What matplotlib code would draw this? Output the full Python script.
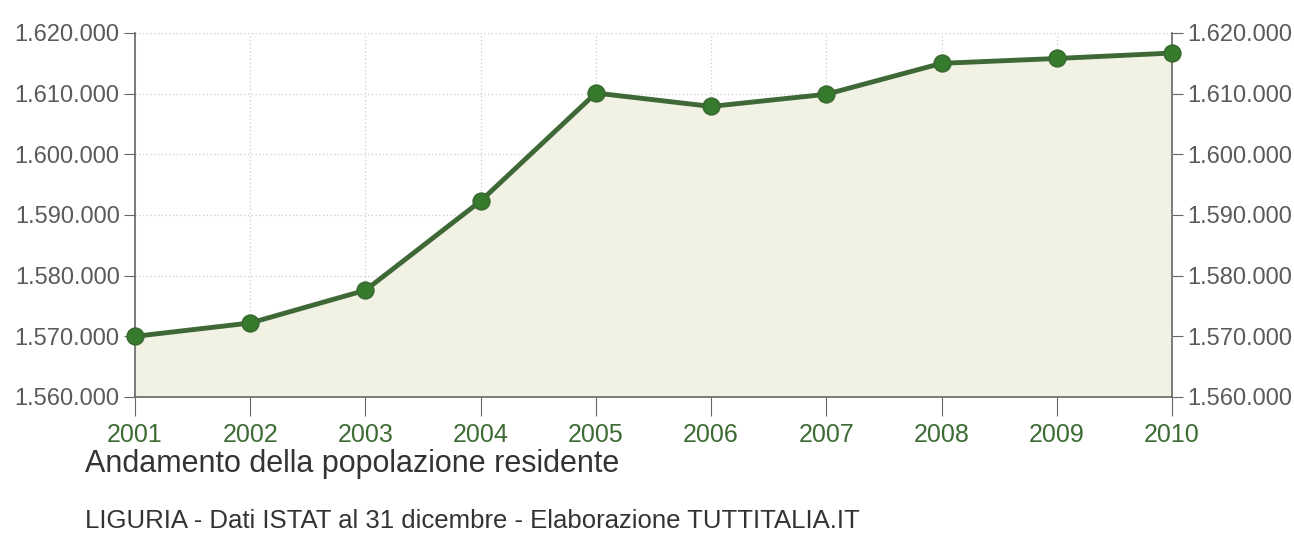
import matplotlib
matplotlib.use("Agg")
import matplotlib.pyplot as plt
from matplotlib.ticker import FuncFormatter

years = [2001, 2002, 2003, 2004, 2005, 2006, 2007, 2008, 2009, 2010]
population = [1570000, 1572200, 1577600, 1592300, 1610100, 1607900, 1609900, 1615000, 1615800, 1616700]
y_ticks = [1560000, 1570000, 1580000, 1590000, 1600000, 1610000, 1620000]
title = "Andamento della popolazione residente"
subtitle = "LIGURIA - Dati ISTAT al 31 dicembre - Elaborazione TUTTITALIA.IT"

plt.rcParams['font.family'] = ['Liberation Sans', 'DejaVu Sans']

fig = plt.figure(figsize=(12.94, 5.54), dpi=100)
ax = fig.add_axes([135/1294, 1-397/554, (1172-135)/1294, (397-33)/554])

ax.fill_between(years, population, y_ticks[0], color="#f1f2e4", zorder=1)
ax.plot(years, population, color="#3f6837", lw=3.5, zorder=3, clip_on=False)
ax.plot(years, population, linestyle="none", marker="o", ms=12, markerfacecolor="#357a2d",
        markeredgecolor="#3a6a32", markeredgewidth=1.2, zorder=4, clip_on=False)

ax.set_xlim(years[0], years[-1])
ax.set_ylim(y_ticks[0], y_ticks[-1])
ax.set_xticks(years)
ax.set_yticks(y_ticks)
fmt = FuncFormatter(lambda v, p: f"{int(v):,}".replace(",", "."))
ax.yaxis.set_major_formatter(fmt)
ax.grid(True, color="#cccccc", linestyle=(0, (1, 2)), lw=0.9, zorder=0)
ax.set_axisbelow(True)

for s in ["left", "right", "bottom"]:
    ax.spines[s].set_color("#666666")
    ax.spines[s].set_linewidth(1.2)
ax.spines["top"].set_visible(False)

ax.tick_params(axis="y", which="both", left=True, right=True, labelleft=True, labelright=True,
               direction="out", length=8, color="#666666", labelsize=17, labelcolor="#5a5a5a", pad=3)
ax.tick_params(axis="x", direction="out", length=14, color="#666666", labelsize=18,
               labelcolor="#3d6b34", pad=5)

fig.text(85/1294, 1-464/554, title, fontsize=22, color="#333333", va="center", ha="left")
fig.text(85/1294, 1-521/554, subtitle, fontsize=18.5, color="#333333", va="center", ha="left")

fig.savefig("out.png", dpi=100, facecolor="white")
